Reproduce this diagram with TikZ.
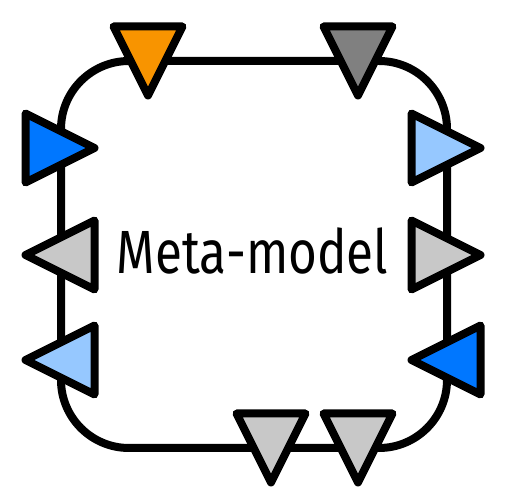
\documentclass[tikz,border=0pt]{standalone}
\usepackage{fontspec}
\newfontfamily\labelfont[FakeStretch=0.81]{Fira Sans}
\definecolor{portorange}{RGB}{248,148,0}
\definecolor{portdark}{RGB}{128,128,128}
\definecolor{portblue}{RGB}{0,119,255}
\definecolor{portlight}{RGB}{150,200,255}
\definecolor{portgray}{RGB}{200,200,200}
\tikzset{
  frame/.style={draw=black, line width=8pt, rounded corners=68pt},
  portshape/.style={draw=black, line width=8pt, line join=round},
}
\newcommand{\porttri}[3]{%
  \filldraw[portshape, fill=#3, shift={(#1)}, rotate=#2]
    (34.5,0) -- (-34.5,34.5) -- (-34.5,-34.5) -- cycle;}
\begin{document}
\begin{tikzpicture}[x=1pt,y=1pt]
\useasboundingbox (0,0) rectangle (507,495);
\draw[frame] (61,47) rectangle (447,434);
\node[anchor=base, inner sep=0pt, font=\labelfont\fontsize{61}{61}\selectfont] (title) at (252.5,221) {Meta-model};
\coordinate (t1) at (148,434);
\coordinate (t2) at (358,434);
\coordinate (l1) at (60,347);
\coordinate (l2) at (60,240);
\coordinate (l3) at (60,135);
\coordinate (r1) at (446,347);
\coordinate (r2) at (446,240);
\coordinate (r3) at (446,135);
\coordinate (b1) at (271,47);
\coordinate (b2) at (358,47);
\porttri{t1}{-90}{portorange}
\porttri{t2}{-90}{portdark}
\porttri{l1}{0}{portblue}
\porttri{l2}{180}{portgray}
\porttri{l3}{180}{portlight}
\porttri{r1}{0}{portlight}
\porttri{r2}{0}{portgray}
\porttri{r3}{180}{portblue}
\porttri{b1}{-90}{portgray}
\porttri{b2}{-90}{portgray}
\end{tikzpicture}
\end{document}
